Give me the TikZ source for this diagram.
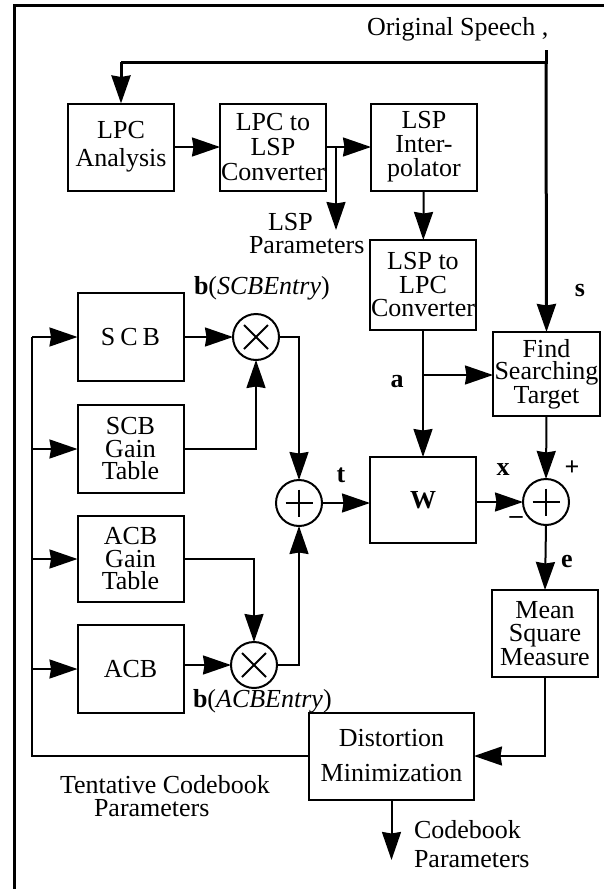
\documentclass[tikz,border=0pt]{standalone}
\usepackage{fontspec}
\setmainfont{Liberation Serif}
\usetikzlibrary{arrows.meta}
\begin{document}
\begin{tikzpicture}[x=1pt,y=-1pt,
  every node/.style={inner sep=0pt, outer sep=0pt},
  blk/.style={draw, line width=2pt, minimum width=106pt, minimum height=87pt, align=center, font=\fontsize{26}{23.5}\selectfont},
  lbl/.style={font=\fontsize{26}{24}\selectfont},
  blbl/.style={font=\bfseries\fontsize{26}{24}\selectfont},
  sumnode/.style={draw, circle, line width=2pt, minimum size=46pt},
  conn/.style={line width=2pt, -{Stealth[length=28pt,width=19pt,inset=1.5pt]}},
  wire/.style={line width=2pt},
  thick3/.style={line width=3pt},
]
\useasboundingbox (0,0) rectangle (604,889);
% frame
\draw[thick3] (14,889) -- (14,5) -- (604,5);

% blocks
\node[blk, font=\fontsize{26}{28}\selectfont] (lpca) at (121,147) {LPC\\Analysis};
\node[blk, font=\fontsize{26}{25}\selectfont] (l2l) at (273,147) {LPC to\\LSP\\Converter};
\node[blk, font=\fontsize{26}{24}\selectfont] (interp) at (424,147) {LSP\\Inter-\\polator};
\node[blk, minimum height=90pt] (l2c) at (423,285) {LSP to\\LPC\\Converter};
\node[blk, minimum height=84pt, minimum width=107pt, font=\fontsize{26}{22.5}\selectfont] (find) at (546.5,374) {Find\\Searching\\Target};
\node[blk, minimum height=86pt, font=\bfseries\fontsize{26}{23}\selectfont] (W) at (423,500) {W};
\node[sumnode] (sum2) at (546,502) {};
\node[blk] (mse) at (545,633.5) {Mean\\Square\\Measure};
\node[blk, minimum width=165pt, font=\fontsize{26}{35}\selectfont] (dist) at (391.5,756) {Distortion\\Minimization};
\node[blk, minimum height=88pt] (scb) at (130.5,337) {S\kern5pt C\kern5pt B};
\node[blk, minimum height=88pt, font=\fontsize{26}{22.5}\selectfont] (scbg) at (130.5,449) {SCB\\Gain\\Table};
\node[blk, minimum height=86pt, font=\fontsize{26}{22.5}\selectfont] (acbg) at (130.5,559) {ACB\\Gain\\Table};
\node[blk, minimum height=88pt] (acb) at (130.5,669) {ACB};
\node[sumnode] (m1) at (256,337) {};
\node[sumnode] (m2) at (254,665) {};
\node[sumnode] (s1) at (299,503) {};

% symbols inside circles
\draw[wire] ([shift={(-12,-12)}]m1.center) -- ([shift={(12,12)}]m1.center);
\draw[wire] ([shift={(-12,12)}]m1.center) -- ([shift={(12,-12)}]m1.center);
\draw[wire] ([shift={(-12,-12)}]m2.center) -- ([shift={(12,12)}]m2.center);
\draw[wire] ([shift={(-12,12)}]m2.center) -- ([shift={(12,-12)}]m2.center);
\draw[wire] ([shift={(-13.5,0)}]s1.center) -- ([shift={(13.5,0)}]s1.center);
\draw[wire] ([shift={(0,-13.5)}]s1.center) -- ([shift={(0,13.5)}]s1.center);
\draw[wire] ([shift={(-13.5,0)}]sum2.center) -- ([shift={(13.5,0)}]sum2.center);
\draw[wire] ([shift={(0,-13.5)}]sum2.center) -- ([shift={(0,13.5)}]sum2.center);

% labels
\node[lbl, anchor=base west] (speech) at (367,35) {Original Speech ,};
\node[blbl] (slbl) at (580,290) {s};
\node[lbl, anchor=base west] (lspp1) at (268,230) {LSP};
\node[lbl, anchor=base west] (lspp2) at (249,253) {Parameters};
\node[lbl, anchor=base west] (bscb) at (194,294) {\textbf{b}(\textit{SCBEntry})};
\node[lbl, anchor=base west] (bacb) at (193,707) {\textbf{b}(\textit{ACBEntry})};
\node[blbl] (albl) at (397,382) {a};
\node[blbl] (tlbl) at (341,475) {t};
\node[blbl] (xlbl) at (503,470) {x};
\node[blbl] (plbl) at (572,468) {+};
\node[blbl] (mlbl) at (516,520) {\textendash};
\node[blbl] (elbl) at (567,562) {e};
\node[lbl, anchor=base west] (cbp1) at (414,838) {Codebook};
\node[lbl, anchor=base west] (cbp2) at (414,867) {Parameters};
\node[lbl, anchor=base west] (tcp1) at (60,793) {Tentative Codebook};
\node[lbl, anchor=base west] (tcp2) at (94,816) {Parameters};

% speech input
\coordinate (sp0) at (546,50);
\coordinate (sp1) at (546,62);
\coordinate (sp2) at (121,62);
\draw[thick3] (sp0) -- (sp1) -- (sp2);
\draw[conn, thick3] (sp1) -- (find.north);
\draw[conn, thick3] (sp2) -- (lpca.north);

% top chain
\draw[conn] (lpca) -- (l2l);
\draw[conn] (l2l) -- (interp);
\coordinate (lspb) at (336,147);
\coordinate (lspe) at (336,230);
\draw[conn] (lspb) -- (lspe);
\draw[conn] (interp) -- (l2c);
\coordinate (abr) at (423,375);
\draw[wire] (l2c.south) -- (abr);
\draw[conn] (abr) -- (find.west |- abr);
\draw[conn] (abr) -- (W.north);
\draw[conn] (find.south) -- (sum2.north);
\draw[conn] (W.east |- sum2) -- (sum2.west);
\draw[conn] (sum2.south) -- (mse.north);
\draw[conn] (mse.south) |- (dist.east);
\coordinate (cb) at (391.5,860);
\draw[conn] (dist.south) -- (cb);

% codebook side
\coordinate (bb) at (32,756);
\coordinate (bt) at (32,337);
\draw[wire] (dist.west) -- (bb) -- (bt);
\draw[conn] (bt) -- (scb.west);
\draw[conn] (bt |- scbg) -- (scbg.west);
\draw[conn] (bt |- acbg) -- (acbg.west);
\draw[conn] (bt |- acb) -- (acb.west);
\draw[conn] (scb.east) -- (m1.west);
\draw[conn] (scbg.east) -| (m1.south);
\draw[conn] (m1.east) -| (s1.north);
\draw[conn] (acbg.east) -| (m2.north);
\draw[conn] (acb.east |- m2) -- (m2.west);
\draw[conn] (m2.east) -| (s1.south);
\draw[conn] (s1.east) -- (W.west |- s1);
\end{tikzpicture}
\end{document}
